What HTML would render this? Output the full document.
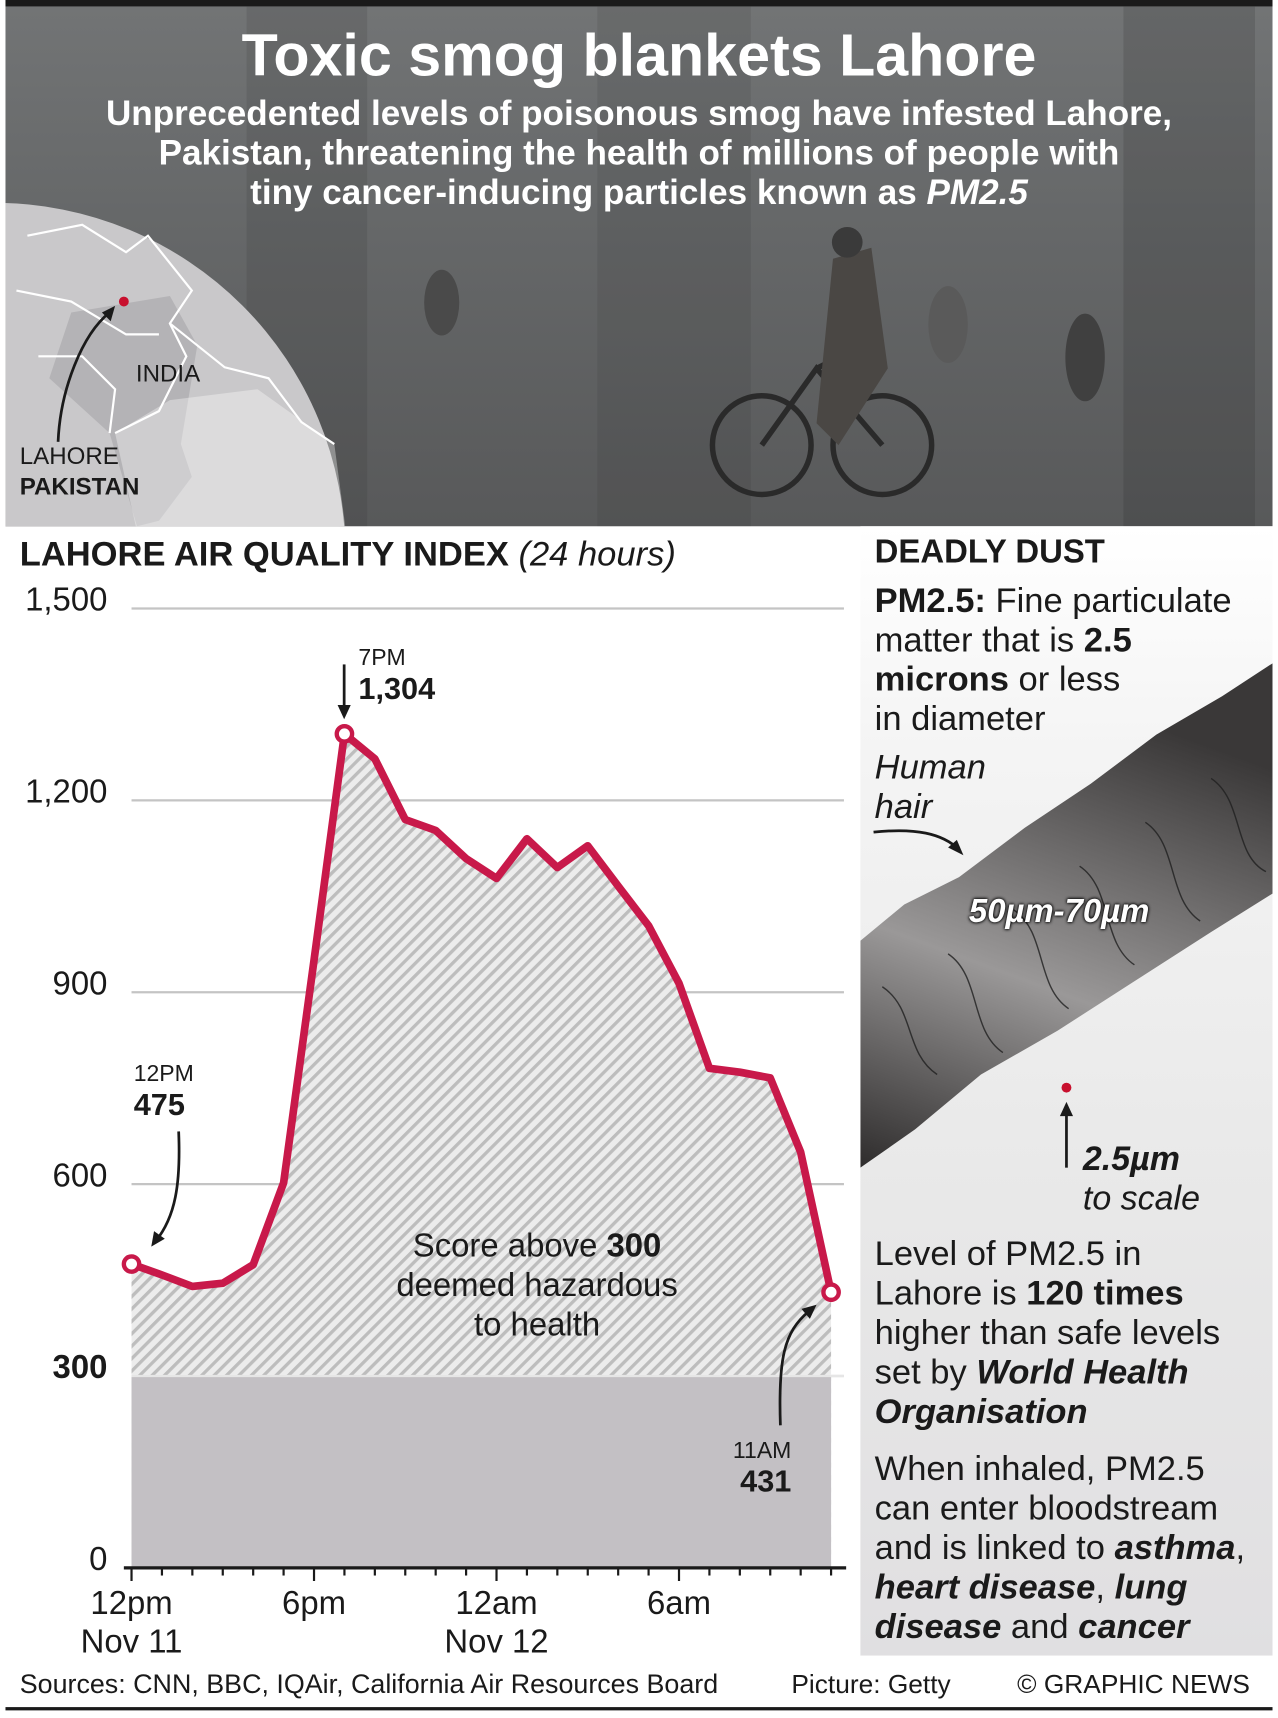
<!DOCTYPE html>
<html><head><meta charset="utf-8">
<style>
html,body{margin:0;padding:0;background:#fff;}
body{width:1278px;height:1718px;overflow:hidden;position:relative;}
#wrap{position:absolute;left:0;top:0;width:1166px;height:1567px;transform:scale(1.09605,1.0964);transform-origin:0 0;font-family:"Liberation Sans",sans-serif;color:#1a1a1a;}
.n{font-family:"Liberation Sans Narrow","Liberation Sans",sans-serif;}
.abs{position:absolute;white-space:nowrap;}
.rt{position:absolute;left:798px;font-size:31.5px;line-height:36px;white-space:nowrap;}
</style></head><body>
<div id="wrap">
  <div class="abs" style="left:5px;top:0;width:1156px;height:6px;background:#1a1a1a"></div>
  <div class="abs" style="left:5px;top:6px;width:1156px;height:474px;background:linear-gradient(180deg,#727475 0%,#666869 40%,#58595a 100%);overflow:hidden">
    <div style="position:absolute;left:220px;top:0;width:110px;height:474px;background:rgba(40,40,40,.14)"></div>
    <div style="position:absolute;left:540px;top:0;width:140px;height:474px;background:rgba(40,40,40,.12)"></div>
    <div style="position:absolute;left:1020px;top:0;width:120px;height:474px;background:rgba(30,30,30,.16)"></div>
    <svg width="1156" height="474" style="position:absolute;left:0;top:0">
      <g fill="none" stroke="#2a2a2a" stroke-width="5">
        <circle cx="690" cy="400" r="45"/><circle cx="800" cy="400" r="45"/>
        <path d="M690 400 L740 330 L800 400 M740 330 L760 320"/>
      </g>
      <path d="M755 230 L790 220 L805 330 L760 400 L740 380 Z" fill="#4a4744"/>
      <circle cx="768" cy="215" r="14" fill="#3a3a3a"/>
      <ellipse cx="398" cy="270" rx="16" ry="30" fill="#4a4a4a"/>
      <ellipse cx="985" cy="320" rx="18" ry="40" fill="#404040"/>
      <ellipse cx="860" cy="290" rx="18" ry="35" fill="#5a5a5a"/>
    </svg>
  </div>
  <svg class="abs" style="left:5px;top:175px" width="310" height="305">
    <clipPath id="cp"><rect x="0" y="0" width="310" height="305"/></clipPath>
    <g clip-path="url(#cp)">
      <circle cx="-10" cy="330" r="320" fill="#c9c8ca"/>
      <path d="M60 110 L150 95 L175 140 L160 230 L170 260 L140 300 L120 305 L95 220 L40 170 Z" fill="#9f9ea1" opacity=".5"/>
      <path d="M120 310 L100 220 L150 190 L230 180 L300 230 L310 305 Z" fill="#fff" opacity=".35"/>
      <g fill="none" stroke="#fff" stroke-width="2">
        <path d="M20 40 L70 30 L110 55 L130 40 L170 90 L150 120 L165 150 L140 200 L100 220"/>
        <path d="M10 90 L60 100 L110 130 L140 130"/>
        <path d="M150 120 L200 160 L240 170 L270 210 L300 230"/>
        <path d="M30 150 L70 150 L100 180 L95 220"/>
      </g>
      <circle cx="108" cy="100" r="4.5" fill="#c8102e"/>
      <path d="M48 228 C50 180 70 130 95 110" fill="none" stroke="#1a1a1a" stroke-width="2.5"/>
      <path d="M100 104 L88 110 L96 118 Z" fill="#1a1a1a"/>
    </g>
  </svg>
  <div class="abs" style="left:124px;top:328px;font-size:22px">INDIA</div>
  <div class="abs" style="left:18px;top:403px;font-size:22px">LAHORE</div>
  <div class="abs" style="left:18px;top:431px;font-size:22px;font-weight:bold">PAKISTAN</div>

  <div class="abs n" style="left:0;width:1166px;text-align:center;top:20px;font-size:54px;font-weight:bold;color:#fff">Toxic smog blankets Lahore</div>
  <div class="abs n" style="left:0;width:1166px;text-align:center;top:85px;font-size:32px;line-height:36px;font-weight:bold;color:#fff;white-space:normal">Unprecedented levels of poisonous smog have infested Lahore,<br>Pakistan, threatening the health of millions of people with<br>tiny cancer-inducing particles known as <i>PM2.5</i></div>

  <div class="abs n" style="left:18px;top:487px;font-size:31.5px"><b>LAHORE AIR QUALITY INDEX</b> <i>(24 hours)</i></div>

  <svg id="chart" class="abs" style="left:0;top:520px" width="785" height="1000"></svg>

  <!-- right panel -->
  <div class="abs" style="left:785px;top:480px;width:376px;height:1030px;background:linear-gradient(180deg,#fff 0%,#f4f4f4 20%,#e8e8e8 60%,#e0dfe1 100%)"></div>
  <svg class="abs" style="left:785px;top:540px" width="376" height="560">
    <defs><linearGradient id="hg" x1="0" y1="1" x2="0.3" y2="0">
      <stop offset="0" stop-color="#2e2c2c"/><stop offset=".45" stop-color="#9a9898"/><stop offset="1" stop-color="#3a3838"/></linearGradient></defs>
    <path d="M0 318 L40 285 L90 260 L150 215 L210 175 L270 130 L330 95 L376 65 L376 275 L320 310 L250 355 L180 400 L110 440 L50 490 L0 525 Z" fill="url(#hg)"/>
    <g fill="none" stroke="#1f1f1f" stroke-width="1.3" opacity=".8">
      <path d="M20 360 C50 380 40 420 70 440 M80 330 C110 350 100 400 130 420 M140 290 C170 310 160 360 190 380 M200 250 C230 270 220 320 250 340 M260 210 C290 230 280 280 310 300 M320 170 C350 190 340 240 370 255"/>
    </g>
    <circle cx="188" cy="452" r="4.5" fill="#c8102e"/>
    <path d="M188 525 L188 475" stroke="#1a1a1a" stroke-width="2.5"/><path d="M182 478 L188 465 L194 478 Z" fill="#1a1a1a"/>
    <path d="M12 219 C50 215 75 220 90 235" fill="none" stroke="#1a1a1a" stroke-width="2.5"/><path d="M94 240 L80 233 L88 226 Z" fill="#1a1a1a"/>
  </svg>
  <div class="abs" style="left:798px;top:487px;font-size:30px;font-weight:bold">DEADLY DUST</div>
  <div class="rt" style="top:529px"><b>PM2.5:</b> Fine particulate<br>matter that is <b>2.5</b><br><b>microns</b> or less<br>in diameter</div>
  <div class="rt" style="top:681px"><i>Human<br>hair</i></div>
  <div class="abs" style="left:884px;top:815px;font-size:30px;font-weight:bold;font-style:italic;color:#fff;text-shadow:0 0 3px #000,0 0 3px #000">50µm-70µm</div>
  <div class="abs" style="left:988px;top:1039px;font-size:31px;line-height:36px"><b><i>2.5µm</i></b><br><i>to scale</i></div>
  <div class="rt" style="top:1125px">Level of PM2.5 in<br>Lahore is <b>120 times</b><br>higher than safe levels<br>set by <b><i>World Health<br>Organisation</i></b></div>
  <div class="rt" style="top:1321px">When inhaled, PM2.5<br>can enter bloodstream<br>and is linked to <b><i>asthma</i></b>,<br><b><i>heart disease</i></b>, <b><i>lung<br>disease</i></b> and <b><i>cancer</i></b></div>

  <div class="abs n" style="left:18px;top:1523px;font-size:24.5px">Sources: CNN, BBC, IQAir, California Air Resources Board</div>
  <div class="abs n" style="left:722px;top:1523px;font-size:24px">Picture: Getty</div>
  <div class="abs n" style="left:928px;top:1523px;font-size:24px">© GRAPHIC NEWS</div>
  <div class="abs" style="left:5px;top:1557px;width:1156px;height:3px;background:#1a1a1a"></div>
</div>
<script>
const hours = [0,1,2,3,4,5,6,7,8,9,10,11,12,13,14,15,16,17,18,19,20,21,22,23];
const aqi = [475,458,440,445,474,602,950,1304,1265,1170,1153,1109,1078,1140,1095,1129,1066,1004,914,781,775,766,650,431];
const yTicks = [0,300,600,900,1200,1500];
const yTickLabels = ["0","300","600","900","1,200","1,500"];
const xTickHours = [0,6,12,18];
const xTickLabels = ["12pm","6pm","12am","6am"];
const xTickSub = ["Nov 11","","Nov 12",""];
const hazardLevel = 300;

const NS="http://www.w3.org/2000/svg";
const svg=document.getElementById('chart');
const OY=520;
const x=h=>120+h*27.75;
const y=v=>1430-OY-v*(175/300);
function mk(t,a,p){const e=document.createElementNS(NS,t);for(const k in a)e.setAttribute(k,a[k]);(p||svg).appendChild(e);return e;}
const FF='"Liberation Sans Narrow","Liberation Sans",sans-serif';

const defs=mk('defs',{});
const pat=mk('pattern',{id:'hatch',width:8,height:8,patternUnits:'userSpaceOnUse',patternTransform:'rotate(45)'},defs);
mk('rect',{width:8,height:8,fill:'#ececec'},pat);
mk('rect',{width:3,height:8,fill:'#bdbdbd'},pat);

yTicks.forEach((v,i)=>{
  if(v>0){const g=mk('line',{x1:120,x2:770,y1:y(v),y2:y(v),stroke:'#c4c4c4','stroke-width':2});
  
  }
  const t=mk('text',{x:98,y:y(v)+2,'text-anchor':'end','font-size':30,'font-family':FF,fill:'#1a1a1a','font-weight':v===hazardLevel?'bold':'normal'});
  t.textContent=yTickLabels[i];
  
  
});

let d=`M${x(hours[0])},${y(0)}`;
hours.forEach((h,i)=>{d+=` L${x(h)},${y(aqi[i])}`;});
d+=` L${x(hours[hours.length-1])},${y(0)} Z`;
const area=mk('path',{d:d,fill:'url(#hatch)'});


const haz=mk('rect',{x:x(0),y:y(hazardLevel),width:x(hours[hours.length-1])-x(0),height:y(0)-y(hazardLevel),fill:'#c3c0c4'});


const hl=mk('line',{x1:x(0),x2:770,y1:y(hazardLevel),y2:y(hazardLevel),stroke:'#e6e6e6','stroke-width':2});



const line=mk('polyline',{points:hours.map((h,i)=>x(h)+','+y(aqi[i])).join(' '),fill:'none',stroke:'#c8194a','stroke-width':7,'stroke-linejoin':'round'});


[0,7,23].forEach(i=>{
  const c=mk('circle',{cx:x(hours[i]),cy:y(aqi[i]),r:7,fill:'#fff',stroke:'#c8194a','stroke-width':4});
  
  
});

const ax=mk('line',{x1:113,x2:772,y1:y(0),y2:y(0),stroke:'#1a1a1a','stroke-width':3});


for(let h=0;h<=23;h++){
  const tk=mk('line',{x1:x(h),x2:x(h),y1:y(0),y2:y(0)+(h%6===0?12:7),stroke:'#1a1a1a','stroke-width':2});
  
  
}
xTickHours.forEach((h,i)=>{
  const t=mk('text',{x:x(h),y:y(0)+42,'text-anchor':'middle','font-size':30,'font-family':FF,fill:'#1a1a1a'});
  t.textContent=xTickLabels[i];
  
  
  if(xTickSub[i]){const s=mk('text',{x:x(h),y:y(0)+77,'text-anchor':'middle','font-size':30,'font-family':FF,fill:'#1a1a1a'});
  s.textContent=xTickSub[i];
  
  }
});

function ann(tx,ty,small,big,anchor,name){
  const g=mk('g',{});
  
  
  const a=mk('text',{x:tx,y:ty,'text-anchor':anchor,'font-size':21,'font-family':FF,fill:'#1a1a1a'},g);a.textContent=small;
  const b=mk('text',{x:tx,y:ty+31,'text-anchor':anchor,'font-size':28,'font-weight':'bold','font-family':FF,fill:'#1a1a1a'},g);b.textContent=big;
  return g;
}
ann(122,y(aqi[0])-167,"12PM","475",'start','annotation-start');
ann(327,y(aqi[7])-63,"7PM","1,304",'start','annotation-peak');
ann(722,y(aqi[23])+151,"11AM","431",'end','annotation-end');
function arrow(path,hx,hy,ang){
  const p=mk('path',{d:path,fill:'none',stroke:'#1a1a1a','stroke-width':2.5});
  
  
  mk('path',{d:'M0,0 L-13,-6 L-13,6 Z',fill:'#1a1a1a',transform:`translate(${hx},${hy}) rotate(${ang})`});
}
arrow(`M163,${1032-OY} C165,${1080-OY} 160,${1110-OY} 142,${1132-OY}`,138,1137-OY,125);
arrow(`M314,${606-OY} L314,${648-OY}`,314,656-OY,90);
arrow(`M712,${1300-OY} C710,${1240-OY} 715,${1215-OY} 738,${1196-OY}`,745,1190-OY,-40);

const note=mk('text',{x:490,y:1146-OY,'text-anchor':'middle','font-size':30,fill:'#1a1a1a','font-family':FF});


[["Score above ","300"],["deemed hazardous",""],["to health",""]].forEach((l,i)=>{
  const ts=mk('tspan',{x:490,dy:i?36:0},note);ts.textContent=l[0];
  if(l[1]){const b=mk('tspan',{'font-weight':'bold'},note);b.textContent=l[1];}
});
</script>
</body></html>
